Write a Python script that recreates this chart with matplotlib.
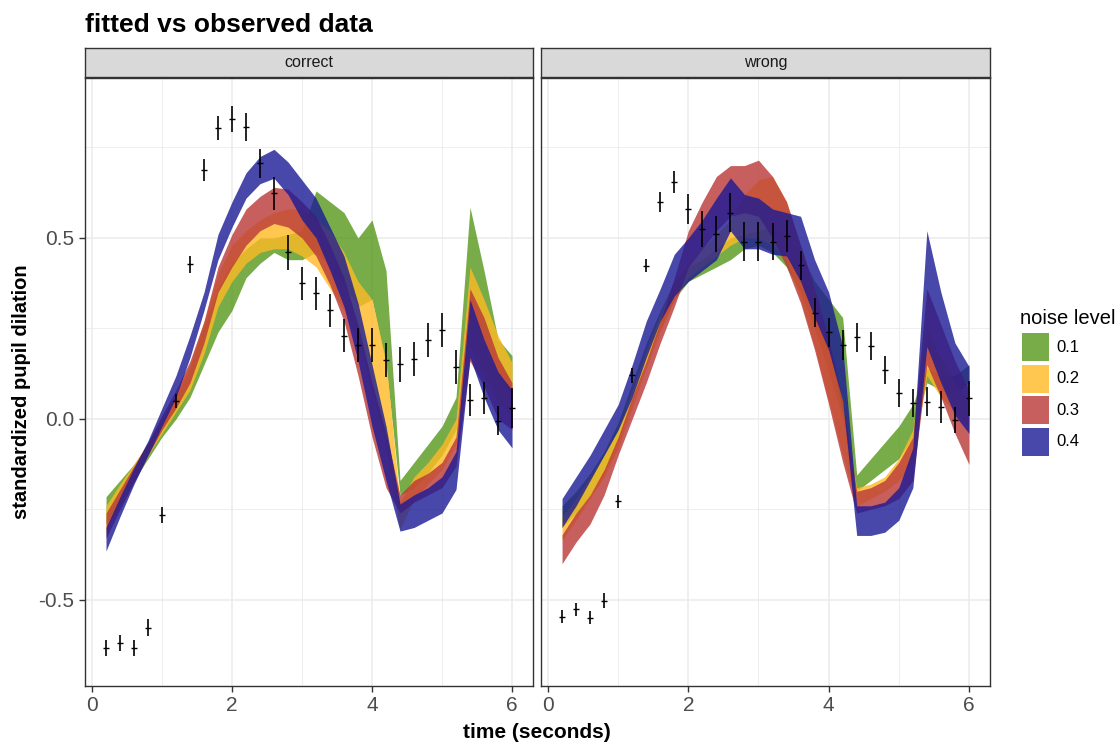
import numpy as np
import matplotlib.pyplot as plt
from matplotlib.patches import Rectangle

plt.rcParams['font.family'] = ['Liberation Sans', 'DejaVu Sans']

# time points (seconds)
t = [0.2, 0.4, 0.6, 0.8, 1.0, 1.2, 1.4, 1.6, 1.8, 2.0, 2.2, 2.4, 2.6, 2.8, 3.0,
     3.2, 3.4, 3.6, 3.8, 4.0, 4.2, 4.4, 4.6, 4.8, 5.0, 5.2, 5.4, 5.6, 5.8, 6.0]

# observed data: mean and standard error
obs_correct = [-0.633, -0.62, -0.633, -0.577, -0.265, 0.05, 0.427, 0.688, 0.805, 0.83,
               0.807, 0.706, 0.623, 0.46, 0.375, 0.347, 0.30, 0.23, 0.204, 0.204,
               0.163, 0.151, 0.166, 0.218, 0.246, 0.144, 0.052, 0.058, -0.005, 0.03]
se_correct = [0.022, 0.022, 0.022, 0.024, 0.022, 0.02, 0.023, 0.03, 0.033, 0.036,
              0.038, 0.041, 0.045, 0.048, 0.046, 0.046, 0.046, 0.046, 0.047, 0.047,
              0.047, 0.048, 0.047, 0.046, 0.046, 0.047, 0.045, 0.045, 0.04, 0.055]
obs_wrong = [-0.546, -0.526, -0.549, -0.502, -0.228, 0.12, 0.423, 0.60, 0.655, 0.58,
             0.525, 0.51, 0.57, 0.49, 0.49, 0.49, 0.505, 0.425, 0.293, 0.24,
             0.204, 0.225, 0.202, 0.135, 0.071, 0.043, 0.048, 0.034, -0.003, 0.057]
se_wrong = [0.018, 0.018, 0.018, 0.02, 0.017, 0.02, 0.018, 0.027, 0.031, 0.041,
            0.05, 0.05, 0.053, 0.053, 0.053, 0.05, 0.045, 0.04, 0.04, 0.04,
            0.041, 0.039, 0.039, 0.039, 0.039, 0.039, 0.039, 0.044, 0.035, 0.048]

# fitted ribbons, panel "correct"
c01_lo = [-0.29, -0.23, -0.17, -0.11, -0.05, 0.00, 0.06, 0.15, 0.24, 0.30, 0.39, 0.43, 0.46, 0.44, 0.44,
          0.46, 0.42, 0.37, 0.31, 0.33, 0.15, -0.21, -0.19, -0.15, -0.10, -0.03, 0.28, 0.22, 0.12, 0.05]
c01_hi = [-0.215, -0.17, -0.125, -0.07, -0.005, 0.06, 0.14, 0.26, 0.36, 0.43, 0.47, 0.50, 0.50, 0.51, 0.52,
          0.63, 0.60, 0.57, 0.50, 0.55, 0.41, -0.17, -0.12, -0.07, -0.02, 0.06, 0.585, 0.41, 0.22, 0.175]
c02_lo = [-0.31, -0.24, -0.17, -0.10, -0.04, 0.02, 0.08, 0.18, 0.31, 0.38, 0.43, 0.46, 0.47, 0.47, 0.45,
          0.42, 0.36, 0.30, 0.22, 0.07, -0.08, -0.305, -0.22, -0.18, -0.14, -0.07, 0.20, 0.12, 0.05, 0.0]
c02_hi = [-0.24, -0.18, -0.125, -0.065, 0.0, 0.07, 0.15, 0.27, 0.40, 0.48, 0.52, 0.55, 0.57, 0.58, 0.58,
          0.55, 0.52, 0.46, 0.38, 0.33, 0.16, -0.23, -0.16, -0.12, -0.07, 0.0, 0.42, 0.33, 0.23, 0.155]
c03_lo = [-0.33, -0.25, -0.175, -0.10, -0.03, 0.03, 0.10, 0.21, 0.35, 0.42, 0.48, 0.52, 0.54, 0.53, 0.50,
          0.45, 0.37, 0.27, 0.12, -0.05, -0.19, -0.26, -0.23, -0.21, -0.19, -0.13, 0.16, 0.09, 0.0, -0.03]
c03_hi = [-0.26, -0.195, -0.13, -0.065, 0.01, 0.08, 0.16, 0.27, 0.42, 0.51, 0.58, 0.615, 0.64, 0.635, 0.60,
          0.56, 0.48, 0.39, 0.26, 0.10, -0.04, -0.21, -0.17, -0.15, -0.12, -0.05, 0.36, 0.28, 0.17, 0.10]
c04_lo = [-0.365, -0.27, -0.18, -0.10, -0.02, 0.06, 0.17, 0.30, 0.44, 0.53, 0.61, 0.65, 0.665, 0.62, 0.55,
          0.50, 0.41, 0.31, 0.16, -0.02, -0.17, -0.31, -0.30, -0.28, -0.26, -0.195, 0.17, 0.06, -0.03, -0.08]
c04_hi = [-0.30, -0.215, -0.135, -0.06, 0.03, 0.12, 0.23, 0.35, 0.51, 0.60, 0.68, 0.725, 0.745, 0.71, 0.66,
          0.61, 0.53, 0.45, 0.32, 0.15, -0.02, -0.235, -0.21, -0.19, -0.16, -0.09, 0.33, 0.22, 0.13, 0.08]

# fitted ribbons, panel "wrong"
w01_lo = [-0.30, -0.26, -0.21, -0.15, -0.06, 0.05, 0.16, 0.25, 0.33, 0.38, 0.40, 0.42, 0.44, 0.47, 0.48,
          0.46, 0.42, 0.35, 0.25, 0.13, 0.00, -0.20, -0.17, -0.14, -0.11, -0.05, 0.10, 0.08, 0.07, 0.10]
w01_hi = [-0.24, -0.20, -0.15, -0.09, -0.01, 0.10, 0.21, 0.30, 0.38, 0.42, 0.44, 0.47, 0.50, 0.51, 0.52,
          0.53, 0.50, 0.46, 0.38, 0.33, 0.28, -0.155, -0.11, -0.065, -0.02, 0.04, 0.14, 0.12, 0.12, 0.15]
w02_lo = [-0.335, -0.28, -0.22, -0.16, -0.08, 0.03, 0.14, 0.24, 0.33, 0.39, 0.42, 0.45, 0.48, 0.50, 0.50,
          0.48, 0.44, 0.33, 0.20, 0.05, -0.10, -0.24, -0.22, -0.20, -0.17, -0.12, 0.12, 0.06, 0.02, -0.02]
w02_hi = [-0.27, -0.22, -0.16, -0.10, -0.03, 0.08, 0.19, 0.29, 0.38, 0.43, 0.47, 0.51, 0.55, 0.62, 0.66,
          0.67, 0.60, 0.48, 0.36, 0.20, 0.02, -0.19, -0.18, -0.16, -0.11, -0.03, 0.25, 0.17, 0.10, 0.05]
w03_lo = [-0.40, -0.34, -0.29, -0.21, -0.10, 0.00, 0.10, 0.21, 0.31, 0.42, 0.47, 0.52, 0.56, 0.57, 0.56,
          0.50, 0.42, 0.32, 0.19, 0.04, -0.12, -0.26, -0.25, -0.24, -0.22, -0.17, 0.15, 0.06, -0.04, -0.126]
w03_hi = [-0.32, -0.26, -0.21, -0.14, -0.05, 0.06, 0.16, 0.27, 0.39, 0.52, 0.60, 0.67, 0.70, 0.70, 0.715,
          0.67, 0.60, 0.48, 0.36, 0.22, 0.05, -0.20, -0.19, -0.17, -0.12, -0.05, 0.36, 0.26, 0.16, 0.08]
w04_lo = [-0.30, -0.24, -0.17, -0.10, -0.03, 0.06, 0.17, 0.27, 0.34, 0.38, 0.41, 0.44, 0.52, 0.47, 0.47,
          0.455, 0.45, 0.38, 0.28, 0.19, 0.05, -0.322, -0.322, -0.313, -0.28, -0.19, 0.20, 0.10, 0.01, -0.04]
w04_hi = [-0.22, -0.16, -0.10, -0.03, 0.04, 0.15, 0.27, 0.36, 0.455, 0.50, 0.55, 0.61, 0.666, 0.62, 0.61,
          0.58, 0.57, 0.56, 0.44, 0.35, 0.20, -0.24, -0.24, -0.23, -0.19, -0.08, 0.52, 0.35, 0.21, 0.145]

noise_levels = ['0.1', '0.2', '0.3', '0.4']
fill_colors = ['#56971a', '#ffba24', '#ba3737', '#1a1a95']
ALPHA = 0.8

panels = [
    ('correct', obs_correct, se_correct,
     [(c01_lo, c01_hi), (c02_lo, c02_hi), (c03_lo, c03_hi), (c04_lo, c04_hi)]),
    ('wrong', obs_wrong, se_wrong,
     [(w01_lo, w01_hi), (w02_lo, w02_hi), (w03_lo, w03_hi), (w04_lo, w04_hi)]),
]

W, H = 1118, 747
fig = plt.figure(figsize=(W / 100, H / 100), dpi=100)

def box(x0, y0, x1, y1):
    return [x0 / W, 1 - y1 / H, (x1 - x0) / W, (y1 - y0) / H]

panel_x = [(85, 533), (541, 990)]
for i, (name, obs, se, ribbons) in enumerate(panels):
    x0, x1 = panel_x[i]
    ax = fig.add_axes(box(x0, 78, x1, 686))
    for (lo, hi), col in zip(ribbons, fill_colors):
        ax.fill_between(t, lo, hi, color=col, alpha=ALPHA, linewidth=0, zorder=2)
    obs = np.array(obs)
    se = np.array(se)
    ax.vlines(t, obs - se, obs + se, color='black', linewidth=1.2, zorder=3)
    ax.plot(t, obs, linestyle='none', marker='_', markersize=4, markeredgewidth=1,
            color='black', zorder=4)

    ax.set_xlim(-0.1, 6.3)
    ax.set_ylim(-0.738, 0.942)
    ax.set_xticks([0, 2, 4, 6])
    ax.set_xticks([1, 3, 5], minor=True)
    ax.set_yticks([-0.5, 0.0, 0.5])
    ax.set_yticks([-0.25, 0.25, 0.75], minor=True)
    ax.grid(which='major', color='#ebebeb', linewidth=1.1, zorder=0)
    ax.grid(which='minor', color='#ebebeb', linewidth=0.6, zorder=0)
    ax.set_axisbelow(True)
    for s in ax.spines.values():
        s.set_color('#333333')
        s.set_linewidth(1.0)
    ax.tick_params(axis='both', which='major', direction='out', length=4, width=1,
                   color='#333333', labelcolor='#4d4d4d', labelsize=15)
    ax.tick_params(axis='both', which='minor', length=0)
    ax.xaxis.set_major_formatter(plt.FuncFormatter(lambda v, p: '%d' % v))
    if i == 0:
        ax.yaxis.set_major_formatter(plt.FuncFormatter(lambda v, p: '%.1f' % v))
    else:
        ax.tick_params(axis='y', which='both', left=False, labelleft=False)

    # facet strip
    sax = fig.add_axes(box(x0, 48, x1, 77))
    sax.set_xticks([])
    sax.set_yticks([])
    sax.set_facecolor('#d9d9d9')
    for s in sax.spines.values():
        s.set_color('#333333')
        s.set_linewidth(1.0)
    sax.text(0.5, 0.5, name, ha='center', va='center', fontsize=11.5, color='#1a1a1a',
             transform=sax.transAxes)

fig.text(85 / W, 1 - 25 / H, 'fitted vs observed data', fontsize=19, fontweight='bold',
         ha='left', va='center')
fig.text(537 / W, 1 - 733 / H, 'time (seconds)', fontsize=15, fontweight='bold',
         ha='center', va='center')
fig.text(22 / W, 1 - 392 / H, 'standardized pupil dilation', fontsize=14.5, fontweight='bold',
         ha='center', va='center', rotation=90)

# legend
fig.text(1020 / W, 1 - 318 / H, 'noise level', fontsize=14.5, ha='left', va='center')
for k, (lab, col) in enumerate(zip(noise_levels, fill_colors)):
    top = 333 + k * 31.5
    fig.patches.append(Rectangle((1022 / W, 1 - (top + 28) / H), 27 / W, 28 / H,
                                 transform=fig.transFigure, facecolor=col, alpha=ALPHA,
                                 edgecolor='none'))
    fig.text(1056 / W, 1 - (top + 14) / H, lab, fontsize=12, ha='left', va='center')

fig.savefig('out.png', dpi=100)
